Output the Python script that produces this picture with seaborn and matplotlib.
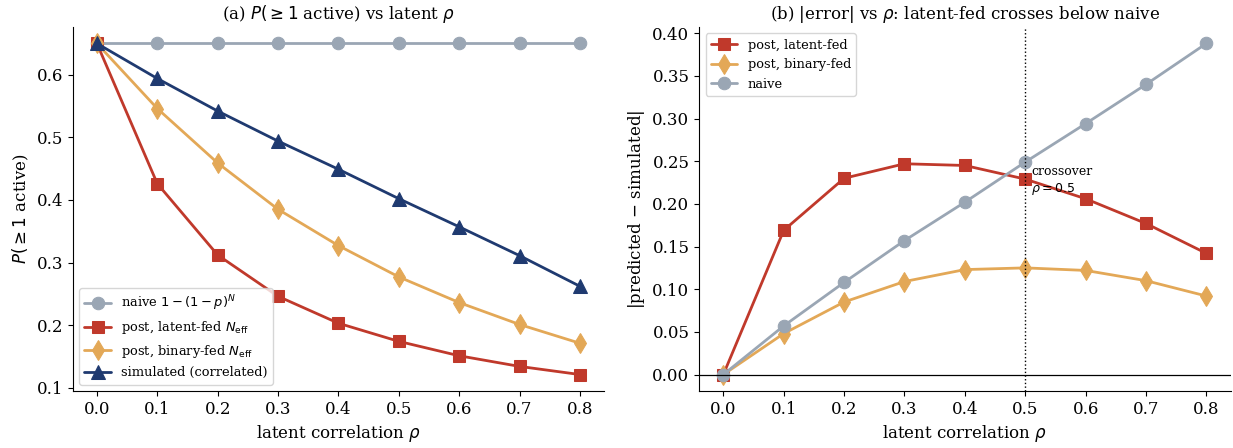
import numpy as np
import pandas as pd
import matplotlib
matplotlib.use("Agg")
import matplotlib.pyplot as plt
import seaborn as sns

# ===============================
# Data
# ===============================
rho = [0.0, 0.1, 0.2, 0.3, 0.4, 0.5, 0.6, 0.7, 0.8]

p_naive = [0.65, 0.65, 0.65, 0.65, 0.65, 0.65, 0.65, 0.65, 0.65]
p_latent = [0.65, 0.426, 0.312, 0.246, 0.203, 0.174, 0.151, 0.134, 0.121]
p_binary = [0.65, 0.546, 0.459, 0.385, 0.327, 0.277, 0.236, 0.201, 0.171]
p_sim = [0.65, 0.594, 0.542, 0.494, 0.449, 0.402, 0.357, 0.311, 0.262]

err_latent = [0.0, 0.169, 0.230, 0.247, 0.245, 0.229, 0.206, 0.177, 0.142]
err_binary = [0.0, 0.048, 0.085, 0.109, 0.123, 0.125, 0.122, 0.110, 0.092]
err_naive = [0.0, 0.057, 0.108, 0.157, 0.202, 0.249, 0.294, 0.340, 0.388]

# colours
c_naive = "#9aa6b4"
c_latent = "#c0392b"
c_binary = "#e3a857"
c_sim = "#1f3a70"

sns.set_style("ticks")
plt.rcParams["font.family"] = ["DejaVu Serif"]
plt.rcParams["mathtext.fontset"] = "dejavusans"
for key in ["text.color", "axes.labelcolor", "xtick.color", "ytick.color",
            "axes.edgecolor"]:
    plt.rcParams[key] = "black"

fig, (ax1, ax2) = plt.subplots(1, 2, figsize=(12.33, 4.48), dpi=100)
fig.subplots_adjust(left=0.059, right=0.998, bottom=0.127, top=0.94, wspace=0.179)

# ===============================
# (a) P(>=1 active) vs rho
# ===============================
left_series = [
    (p_naive, c_naive, "o", 9, r"naive $1-(1-p)^N$"),
    (p_latent, c_latent, "s", 9, r"post, latent-fed $N_{\rm eff}$"),
    (p_binary, c_binary, "d", 10, r"post, binary-fed $N_{\rm eff}$"),
    (p_sim, c_sim, "^", 10, "simulated (correlated)"),
]
for vals, col, mk, ms, lab in left_series:
    sns.lineplot(x=rho, y=vals, ax=ax1, color=col, marker=mk, markersize=ms,
                 markeredgecolor=col, linewidth=2, label=lab)

ax1.set_title(r"(a) $P(\geq 1$ active) vs latent $\rho$", fontsize=12)
ax1.set_xlabel(r"latent correlation $\rho$", fontsize=12)
ax1.set_ylabel(r"$P(\geq 1$ active)", fontsize=12)
ax1.set_xticks(rho)
ax1.legend(loc="lower left", fontsize=9.4, framealpha=0.8)

# ===============================
# (b) |error| vs rho
# ===============================
right_series = [
    (err_latent, c_latent, "s", 9, "post, latent-fed"),
    (err_binary, c_binary, "d", 10, "post, binary-fed"),
    (err_naive, c_naive, "o", 9, "naive"),
]
for vals, col, mk, ms, lab in right_series:
    sns.lineplot(x=rho, y=vals, ax=ax2, color=col, marker=mk, markersize=ms,
                 markeredgecolor=col, linewidth=2, label=lab)

ax2.axhline(0, color="black", linewidth=0.9)
ax2.axvline(0.5, color="black", linestyle=":", linewidth=1)
ax2.text(0.51, 0.245, "crossover\n" + r"$\rho = 0.5$", fontsize=9, va="top")

ax2.set_title(r"(b) |error| vs $\rho$: latent-fed crosses below naive", fontsize=12)
ax2.set_xlabel(r"latent correlation $\rho$", fontsize=12)
ax2.set_ylabel(r"|predicted $-$ simulated|", fontsize=12)
ax2.set_xticks(rho)
ax2.legend(loc="upper left", fontsize=9.4, framealpha=0.8)

for ax in (ax1, ax2):
    ax.tick_params(labelsize=12)
    sns.despine(ax=ax)

plt.savefig("out.png", dpi=100)
